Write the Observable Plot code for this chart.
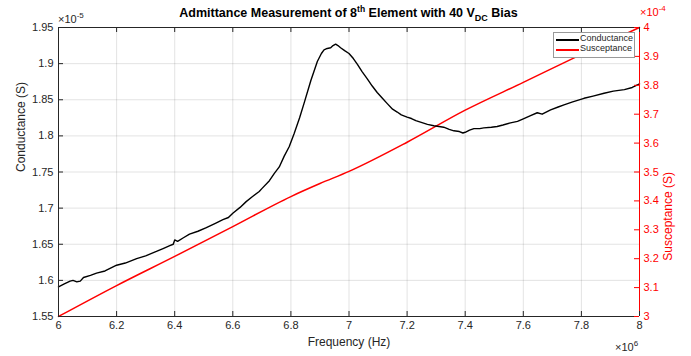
<!DOCTYPE html>
<html>
<head>
<meta charset="utf-8">
<script src="https://cdn.jsdelivr.net/npm/d3@7"></script>
<script src="https://cdn.jsdelivr.net/npm/@observablehq/plot@0.6"></script>
<style>
  body { margin: 0; background: white; }
  #wrap { position: relative; width: 691px; height: 356px; font-family: "Liberation Sans", Arial, sans-serif; color: #262626; }
  .abs { position: absolute; white-space: nowrap; line-height: 1; }
  .title { left: 0; width: 697px; top: 5px; text-align: center; font-weight: bold; font-size: 12.5px; color: #000; }
  .title sup { font-size: 8.5px; }
  .title sub { font-size: 9px; }
  .exp { font-size: 11px; }
  .exp sup { font-size: 8px; }
  .legend { left: 553px; top: 32px; width: 80px; height: 24px; border: 1px solid #999; background: white; font-size: 9px; }
  .legend .row { position: absolute; left: 2px; height: 10px; }
  .legend .sw { position: absolute; left: 0; top: 5px; width: 23px; height: 1.5px; }
  .legend .lb { position: absolute; left: 24px; top: 0; }
</style>
</head>
<body>
<div id="wrap"></div>
<script>
// ---- data (frequency in ×10^6 Hz, conductance in ×10^-5 S, susceptance in ×10^-4 S)
const condFreq = [6.000,6.020,6.040,6.050,6.063,6.075,6.086,6.110,6.131,6.160,6.200,6.230,6.269,6.300,6.337,6.360,6.383,6.395,6.400,6.410,6.430,6.451,6.480,6.509,6.540,6.566,6.585,6.600,6.625,6.646,6.668,6.691,6.700,6.726,6.743,6.760,6.777,6.794,6.811,6.830,6.846,6.869,6.891,6.905,6.914,6.925,6.937,6.945,6.954,6.962,6.971,6.985,7.000,7.015,7.029,7.045,7.063,7.080,7.097,7.115,7.131,7.150,7.166,7.180,7.200,7.215,7.230,7.246,7.270,7.292,7.310,7.326,7.345,7.361,7.380,7.392,7.400,7.415,7.430,7.450,7.464,7.490,7.510,7.530,7.556,7.580,7.602,7.625,7.648,7.665,7.694,7.720,7.740,7.770,7.809,7.840,7.878,7.910,7.948,7.975,8.000];
const condValue = [1.591,1.595,1.599,1.600,1.598,1.599,1.604,1.607,1.610,1.613,1.621,1.624,1.630,1.634,1.640,1.644,1.648,1.650,1.656,1.654,1.659,1.664,1.668,1.673,1.679,1.684,1.687,1.693,1.701,1.709,1.716,1.723,1.727,1.738,1.748,1.757,1.772,1.785,1.803,1.825,1.846,1.877,1.903,1.914,1.919,1.921,1.922,1.925,1.927,1.925,1.922,1.918,1.914,1.907,1.899,1.889,1.879,1.869,1.860,1.852,1.845,1.837,1.833,1.829,1.826,1.824,1.821,1.819,1.816,1.814,1.813,1.812,1.809,1.807,1.806,1.804,1.805,1.808,1.810,1.810,1.811,1.812,1.813,1.815,1.818,1.820,1.824,1.828,1.832,1.830,1.836,1.840,1.843,1.847,1.852,1.855,1.859,1.862,1.864,1.867,1.872];
const susFreq = [6.0,6.2,6.4,6.6,6.8,6.9,7.0,7.2,7.4,7.6,7.8,8.0];
const susValue = [3.000,3.107,3.208,3.311,3.415,3.460,3.502,3.603,3.714,3.810,3.907,4.000];
const xTicks = [6,6.2,6.4,6.6,6.8,7,7.2,7.4,7.6,7.8,8];
const leftTicks = [1.55,1.6,1.65,1.7,1.75,1.8,1.85,1.9,1.95];
const rightTicks = [3,3.1,3.2,3.3,3.4,3.5,3.6,3.7,3.8,3.9,4];
const seriesNames = ["Conductance","Susceptance"];
const titleParts = ["Admittance Measurement of 8","th"," Element with 40 V","DC"," Bias"];

// right axis range mapped onto the left axis range
const L0 = 1.55, L1 = 1.95, R0 = 3, R1 = 4;
const toLeft = r => L0 + (r - R0) * (L1 - L0) / (R1 - R0);
const toRight = l => R0 + (l - L0) * (R1 - R0) / (L1 - L0);
const fmt = v => String(+v.toFixed(2));

const cond = condFreq.map((f, i) => ({f, v: condValue[i]}));
const sus = susFreq.map((f, i) => ({f, v: susValue[i]}));
const rightMapped = rightTicks.map(toLeft);

const AX = "#262626", RED = "#ff0000";
const W = 691, H = 356, mL = 58, mR = 52, mT = 27, mB = 40;
const fw = W - mL - mR, fh = H - mT - mB, tk = 5;

const chart = Plot.plot({
  width: W, height: H,
  marginLeft: mL, marginRight: mR, marginTop: mT, marginBottom: mB,
  style: {fontFamily: "'Liberation Sans', Arial, sans-serif", fontSize: "11px", background: "white", overflow: "visible"},
  x: {domain: [6, 8]},
  y: {domain: [L0, L1]},
  marks: [
    Plot.gridX(xTicks, {stroke: AX, strokeOpacity: 0.13}),
    Plot.gridY(leftTicks, {stroke: AX, strokeOpacity: 0.13}),
    Plot.line(sus, {x: "f", y: d => toLeft(d.v), stroke: RED, strokeWidth: 1.5, curve: "monotone-x"}),
    Plot.line(cond, {x: "f", y: "v", stroke: "#000", strokeWidth: 1.4}),
    // box
    Plot.ruleX([6], {stroke: AX}),
    Plot.ruleY([L0], {stroke: AX}),
    Plot.ruleY([L1], {stroke: AX}),
    Plot.ruleX([8], {stroke: RED}),
    // inward ticks
    Plot.ruleX(xTicks, {stroke: AX, insetTop: fh - tk}),
    Plot.ruleX(xTicks, {stroke: AX, insetBottom: fh - tk}),
    Plot.ruleY(leftTicks, {stroke: AX, insetRight: fw - tk}),
    Plot.ruleY(rightMapped, {stroke: RED, insetLeft: fw - tk}),
    // tick labels
    Plot.axisX(xTicks, {tickSize: 0, tickPadding: 5, tickFormat: fmt, label: null, fill: AX}),
    Plot.axisY(leftTicks, {anchor: "left", tickSize: 0, tickPadding: 5, tickFormat: fmt, label: null, fill: AX}),
    Plot.axisY(rightMapped, {anchor: "right", tickSize: 0, tickPadding: 4, tickFormat: d => fmt(toRight(d)), label: null, fill: RED}),
    // axis titles
    Plot.text(["Frequency (Hz)"], {frameAnchor: "bottom", dy: 29, fill: AX, fontSize: 12}),
    Plot.text(["Conductance (S)"], {frameAnchor: "left", dx: -37, rotate: -90, fill: AX, fontSize: 12}),
    Plot.text(["Susceptance (S)"], {frameAnchor: "right", dx: 29, rotate: -90, fill: RED, fontSize: 12})
  ]
});

const wrap = document.getElementById("wrap");
wrap.appendChild(chart);

function addDiv(cls, html, style) {
  const d = document.createElement("div");
  d.className = "abs " + cls;
  d.innerHTML = html;
  Object.assign(d.style, style || {});
  wrap.appendChild(d);
  return d;
}
addDiv("title", `${titleParts[0]}<sup>${titleParts[1]}</sup>${titleParts[2]}<sub>${titleParts[3]}</sub>${titleParts[4]}`);
addDiv("exp", "×10<sup>-5</sup>", {left: "58px", top: "12px", color: AX});
addDiv("exp", "×10<sup>-4</sup>", {left: "640px", top: "5px", color: RED});
addDiv("exp", "×10<sup>6</sup>", {left: "615px", top: "340px", color: AX});

const lg = addDiv("legend", "");
[["#000", 3], [RED, 13]].forEach(([c, top], i) => {
  const r = document.createElement("div");
  r.className = "row";
  r.style.top = top - 2 + "px";
  r.innerHTML = `<div class="sw" style="background:${c}"></div><div class="lb">${seriesNames[i]}</div>`;
  lg.appendChild(r);
});
</script>
</body>
</html>
